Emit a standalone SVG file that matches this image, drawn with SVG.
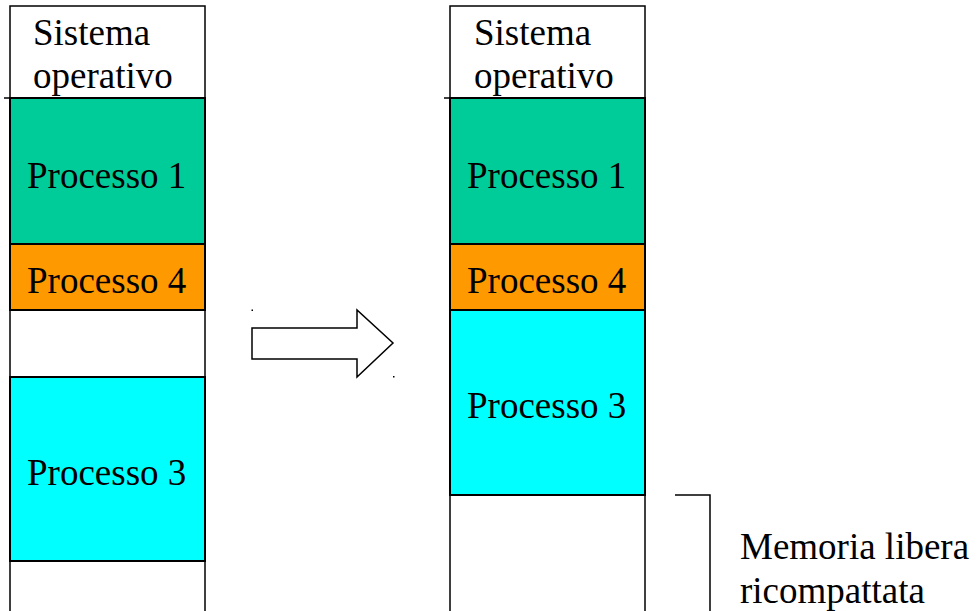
<svg xmlns="http://www.w3.org/2000/svg" width="977" height="611" viewBox="0 0 977 611">
<style>
text{font-family:"Liberation Serif","Times New Roman",serif;font-size:37px;fill:#000}
.col{fill:#fff;stroke:#000;stroke-width:1.5}
.blk{stroke:#000;stroke-width:2}
.p1{fill:#00CC99}
.p4{fill:#FF9900}
.p3{fill:#00FFFF}
.ln{fill:none;stroke:#000;stroke-width:1.5}
</style>
<rect width="977" height="611" fill="#fff"/>
<g id="left-column">
<rect class="col" x="10" y="6" width="195" height="620"/>
<g id="left-so"><text x="33" y="45">Sistema</text><text x="33" y="88">operativo</text></g>
<line class="ln" x1="4" y1="98" x2="205" y2="98"/>
<g id="left-p1"><rect class="blk p1" x="10" y="98" width="195" height="146"/><text x="27" y="188">Processo 1</text></g>
<g id="left-p4"><rect class="blk p4" x="10" y="244" width="195" height="66"/><text x="27" y="293">Processo 4</text></g>
<g id="left-p3"><rect class="blk p3" x="10" y="377" width="195" height="184"/><text x="27" y="485">Processo 3</text></g>
</g>
<g id="right-column">
<rect class="col" x="450" y="6" width="195" height="620"/>
<g id="right-so"><text x="474" y="45">Sistema</text><text x="474" y="88">operativo</text></g>
<line class="ln" x1="444" y1="98" x2="645" y2="98"/>
<g id="right-p1"><rect class="blk p1" x="450" y="98" width="195" height="146"/><text x="467" y="188">Processo 1</text></g>
<g id="right-p4"><rect class="blk p4" x="450" y="244" width="195" height="66"/><text x="467" y="293">Processo 4</text></g>
<g id="right-p3"><rect class="blk p3" x="450" y="310" width="195" height="185"/><text x="467" y="418">Processo 3</text></g>
</g>
<g id="connectors">
<polygon points="252,328 357,328 357,310 393,343 357,377 357,359 252,359" fill="#fff" stroke="#000" stroke-width="1.5"/>
<rect x="251.5" y="309.5" width="1.5" height="1.5" fill="#000"/>
<rect x="393" y="376" width="1.5" height="1.5" fill="#000"/>
<polyline class="ln" points="675,495 710,495 710,611"/>
</g>
<g id="label">
<text x="740" y="559">Memoria libera</text>
<text x="740" y="603">ricompattata</text>
</g>
</svg>
